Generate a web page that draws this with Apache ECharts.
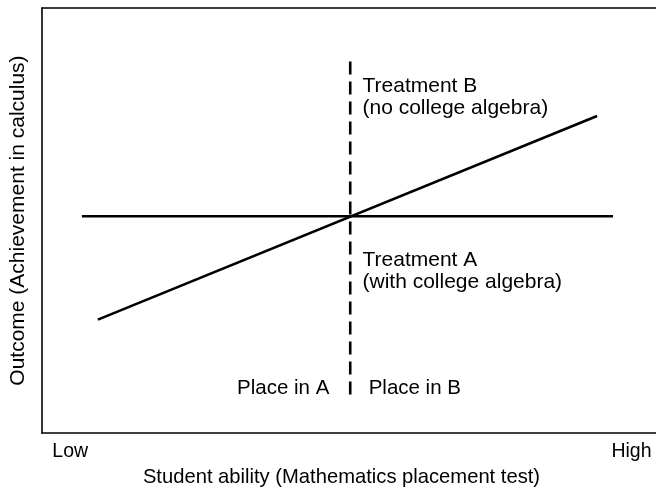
<!DOCTYPE html>
<html>
<head>
<meta charset="utf-8">
<script src="https://cdn.jsdelivr.net/npm/echarts@6/dist/echarts.min.js"></script>
<style>
html,body{margin:0;padding:0;background:#fff;}
#chart{width:656px;height:492px;}
</style>
</head>
<body>
<div id="chart"></div>
<script>
// Data (x: student ability 0-100, y: outcome 0-100)
var treatmentALine = [[6.5, 51.0], [93.0, 51.0]];
var treatmentBLine = [[9.1, 26.7], [90.4, 74.6]];
var cutoffLine = [[50.2, 87.4], [50.2, 7.5]];
var xTickValues = [4.6, 96.0];
var xTickLabels = ['Low', 'High'];
var annotations = [
  {text: 'Treatment B\n(no college algebra)', pos: [52.2, 79.0], align: 'left', size: 21},
  {text: 'Treatment A\n(with college algebra)', pos: [52.2, 38.2], align: 'left', size: 21},
  {text: 'Place in A', pos: [46.8, 10.5], align: 'right', size: 20.5},
  {text: 'Place in B', pos: [53.2, 10.5], align: 'left', size: 20.5}
];
var xTitle = 'Student ability (Mathematics placement test)';
var yTitle = 'Outcome (Achievement in calculus)';

var FONT = '"Liberation Sans", Arial, Helvetica, sans-serif';

var chart = echarts.init(document.getElementById('chart'), null, {renderer: 'canvas'});

var annSeries = annotations.map(function (a) {
  return {
    type: 'scatter',
    data: [a.pos],
    symbolSize: 0,
    silent: true,
    itemStyle: {opacity: 1},
    label: {
      show: true,
      position: a.align === 'left' ? 'right' : 'left',
      distance: 0,
      formatter: a.text,
      color: '#000',
      opacity: 1,
      fontFamily: FONT,
      fontSize: a.size,
      lineHeight: 22,
      align: a.align,
      verticalAlign: 'middle'
    }
  };
});

var option = {
  backgroundColor: '#fff',
  animation: false,
  grid: {left: 41, top: 8, right: 0, bottom: 55, containLabel: false},
  xAxis: [{
    type: 'value', min: 0, max: 100, position: 'bottom',
    axisLine: {show: true, onZero: false, lineStyle: {color: '#000', width: 1.6}},
    axisTick: {show: false},
    splitLine: {show: false},
    axisLabel: {
      show: true,
      customValues: xTickValues,
      formatter: function (v) { return xTickLabels[xTickValues.indexOf(v)]; },
      color: '#000', fontFamily: FONT, fontSize: 19.5, margin: 9
    },
    name: xTitle, nameLocation: 'middle', nameGap: 32,
    nameTextStyle: {color: '#000', fontFamily: FONT, fontSize: 20.2, padding: [0, 15, 0, 0]}
  }, {
    type: 'value', min: 0, max: 100, position: 'top',
    axisLine: {show: true, onZero: false, lineStyle: {color: '#000', width: 1.6}},
    axisTick: {show: false}, axisLabel: {show: false}, splitLine: {show: false}
  }],
  yAxis: {
    type: 'value', min: 0, max: 100,
    axisLine: {show: true, onZero: false, lineStyle: {color: '#000', width: 1.6}},
    axisTick: {show: false}, axisLabel: {show: false}, splitLine: {show: false},
    name: yTitle, nameLocation: 'middle', nameGap: 13, nameRotate: 90,
    nameTextStyle: {color: '#000', fontFamily: FONT, fontSize: 21}
  },
  series: [{
    type: 'line', data: treatmentALine, symbol: 'none', silent: true,
    lineStyle: {color: '#000', width: 2.6}
  }, {
    type: 'line', data: treatmentBLine, symbol: 'none', silent: true,
    lineStyle: {color: '#000', width: 2.6}
  }, {
    type: 'line', data: cutoffLine, symbol: 'none', silent: true,
    lineStyle: {color: '#000', width: 2.6, type: [13, 7]}
  }].concat(annSeries)
};
chart.setOption(option);
</script>
</body>
</html>
